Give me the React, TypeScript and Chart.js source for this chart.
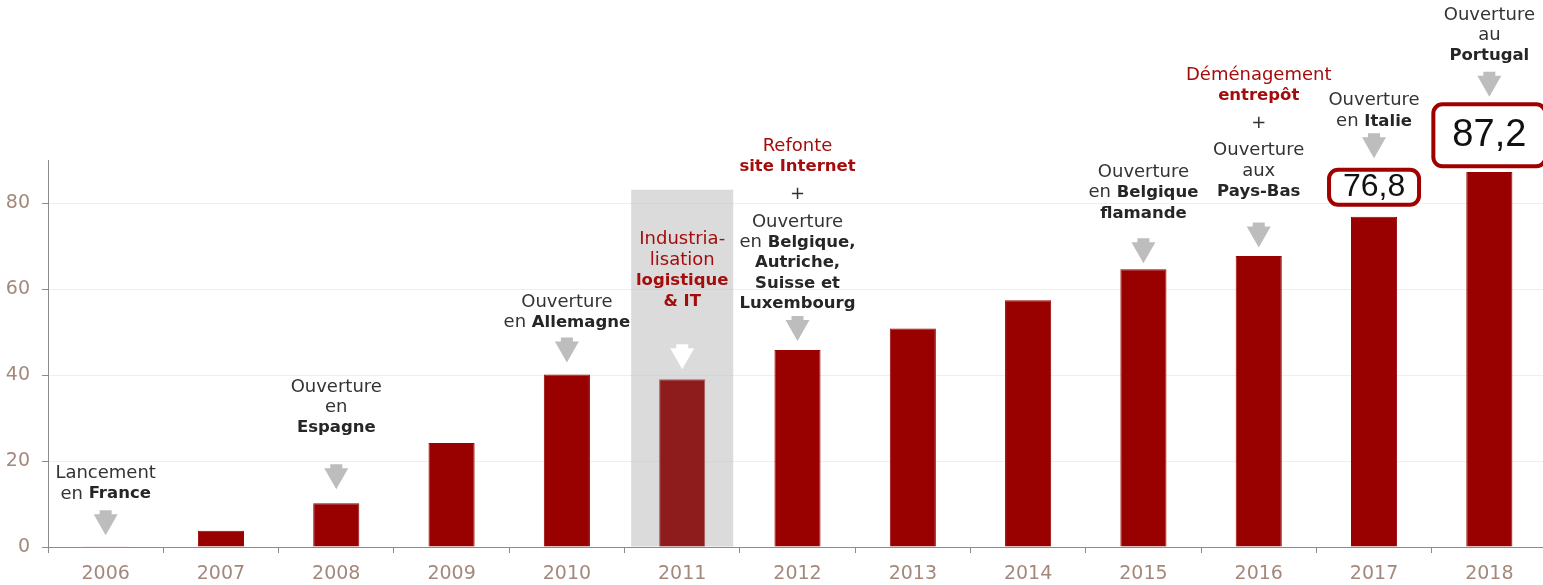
import React, { useEffect, useRef } from 'react';
import { Chart, registerables } from 'chart.js';

Chart.register(...registerables);

// ---------- data ----------
const years = ['2006', '2007', '2008', '2009', '2010', '2011', '2012', '2013', '2014', '2015', '2016', '2017', '2018'];
const revenue = [0.2, 3.8, 10.2, 24.2, 40.1, 39.0, 45.8, 50.8, 57.4, 64.6, 67.7, 76.8, 87.2];
const highlightBox = [null, null, null, null, null, 83.1, null, null, null, null, null, null, null];
const highlightYear = '2011';
const calloutValues = [null, null, null, null, null, null, null, null, null, null, null, '76,8', '87,2'];
const yMax = 90;
const yStep = 20;

// milestone texts ("!" = red line, **x** = bold)
const milestones: (string[] | null)[] = [
  ['Lancement', 'en **France**'],
  null,
  ['Ouverture', 'en', '**Espagne**'],
  null,
  ['Ouverture', 'en **Allemagne**'],
  ['!Industria-', '!lisation', '!**logistique**', '!**& IT**'],
  ['!Refonte', '!**site Internet**', '+', 'Ouverture', 'en **Belgique,**', '**Autriche,**', '**Suisse et**', '**Luxembourg**'],
  null,
  null,
  ['Ouverture', 'en **Belgique**', '**flamande**'],
  ['!Déménagement', '!**entrepôt**', '+', 'Ouverture', 'aux', '**Pays-Bas**'],
  ['Ouverture', 'en **Italie**'],
  ['Ouverture', 'au', '**Portugal**'],
];

// ---------- layout / style ----------
const BAR = '#990000';
const BAR_HL = '#8e1c1c';
const TICK_COLOR = '#a3897b';
const AXIS = '#8c8c8c';
const RED_TEXT = '#a50d0d';
const GRAY_TEXT = '#333333';
const FONT = '"DejaVu Sans"';

// per-bar annotation offsets in px: [gap bar/box top -> arrow tip, gap arrow top -> last text line centre]
const annotationOffsets: Record<number, [number, number]> = {
  0: [11, 16],
  2: [14, 36],
  4: [12, 15],
  5: [10, 43],
  6: [9, 12],
  9: [6, 25],
  10: [8.5, 31],
  11: [9.5, 12],
  12: [5.5, 16],
};
// callout boxes: outer width, outer height, gap above bar, font size
const calloutStyle: Record<number, { w: number; h: number; gap: number; size: number }> = {
  11: { w: 94, h: 39, gap: 10, size: 32 },
  12: { w: 116, h: 66, gap: 3.7, size: 38 },
};

function drawArrow(ctx: CanvasRenderingContext2D, cx: number, top: number, color: string) {
  const shaftW = 12, shaftH = 4, headW = 24, headH = 21;
  ctx.save();
  ctx.fillStyle = color;
  ctx.beginPath();
  ctx.moveTo(cx - shaftW / 2, top);
  ctx.lineTo(cx + shaftW / 2, top);
  ctx.lineTo(cx + shaftW / 2, top + shaftH);
  ctx.lineTo(cx + headW / 2, top + shaftH);
  ctx.lineTo(cx, top + shaftH + headH);
  ctx.lineTo(cx - headW / 2, top + shaftH);
  ctx.lineTo(cx - shaftW / 2, top + shaftH);
  ctx.closePath();
  ctx.fill();
  ctx.restore();
}

function drawRichLine(ctx: CanvasRenderingContext2D, raw: string, cx: number, y: number) {
  let line = raw;
  let red = false;
  if (line.startsWith('!')) {
    red = true;
    line = line.slice(1);
  }
  const parts = line.split('**');
  const runs = parts
    .map((t, i) => ({ t, bold: i % 2 === 1 }))
    .filter((r) => r.t.length > 0);
  const fontOf = (b: boolean) => (b ? `bold 16.5px ${FONT}` : `18px ${FONT}`);
  let total = 0;
  const widths = runs.map((r) => {
    ctx.font = fontOf(r.bold);
    const w = ctx.measureText(r.t).width;
    total += w;
    return w;
  });
  let x = cx - total / 2;
  ctx.textBaseline = 'middle';
  ctx.textAlign = 'left';
  runs.forEach((r, i) => {
    ctx.font = fontOf(r.bold);
    ctx.fillStyle = red ? RED_TEXT : r.bold ? '#262626' : GRAY_TEXT;
    ctx.fillText(r.t, x, y);
    x += widths[i];
  });
}

const milestonePlugin = {
  id: 'milestones',
  afterDatasetsDraw(chart: any) {
    const ctx: CanvasRenderingContext2D = chart.ctx;
    const meta = chart.getDatasetMeta(0);
    meta.data.forEach((bar: any, i: number) => {
      const cx = bar.x;
      let top = bar.y;
      const value = calloutValues[i];
      if (value) {
        const s = calloutStyle[i];
        const bottom = top - s.gap;
        const boxTop = bottom - s.h;
        const lw = 4;
        ctx.save();
        ctx.beginPath();
        (ctx as any).roundRect(cx - s.w / 2 + lw / 2, boxTop + lw / 2, s.w - lw, s.h - lw, 9);
        ctx.fillStyle = '#ffffff';
        ctx.fill();
        ctx.lineWidth = lw;
        ctx.strokeStyle = '#a00000';
        ctx.stroke();
        ctx.font = `${s.size}px "Liberation Sans"`;
        ctx.fillStyle = '#111111';
        ctx.textAlign = 'center';
        ctx.textBaseline = 'alphabetic';
        const m = ctx.measureText(value);
        const asc = m.actualBoundingBoxAscent;
        const desc = m.actualBoundingBoxDescent;
        const midY = boxTop + s.h / 2;
        ctx.fillText(value, cx, midY + (asc - desc) / 2);
        ctx.restore();
        top = boxTop;
      }
      const lines = milestones[i];
      if (!lines) return;
      const [arrowGap, textGap] = annotationOffsets[i];
      const tip = top - arrowGap;
      const aTop = tip - 25;
      drawArrow(ctx, cx, aTop, years[i] === highlightYear ? '#ffffff' : '#bdbdbd');
      ctx.save();
      let y = aTop - textGap;
      for (let k = lines.length - 1; k >= 0; k--) {
        drawRichLine(ctx, lines[k], cx, y);
        if (k > 0) {
          const extra = lines[k] === '+' || lines[k - 1] === '+' ? 7 : 0;
          y -= 20.5 + extra;
        }
      }
      ctx.restore();
    });
  },
};

export default function App() {
  const canvasRef = useRef<HTMLCanvasElement | null>(null);

  useEffect(() => {
    document.documentElement.style.overflow = 'hidden';
    document.body.style.margin = '0';
    document.body.style.overflow = 'hidden';
    const canvas = canvasRef.current;
    if (!canvas) return;
    Chart.defaults.font.family = FONT;
    const chart = new Chart(canvas, {
      type: 'bar',
      data: {
        labels: years,
        datasets: [
          {
            data: revenue,
            backgroundColor: years.map((y) => (y === highlightYear ? BAR_HL : BAR)),
            borderColor: years.map((y) => (y === highlightYear ? '#b05858' : BAR)),
            borderWidth: 1,
            barPercentage: 0.4,
            categoryPercentage: 1,
            grouped: false,
            order: 1,
          },
          {
            data: highlightBox,
            backgroundColor: 'rgba(190,190,190,0.55)',
            borderWidth: 0,
            barPercentage: 0.885,
            categoryPercentage: 1,
            grouped: false,
            order: 2,
          },
        ],
      },
      options: {
        responsive: false,
        animation: false,
        layout: { padding: { top: 160, right: 8, left: 0, bottom: 0 } },
        plugins: {
          legend: { display: false },
          tooltip: { enabled: false },
        },
        scales: {
          x: {
            grid: {
              drawOnChartArea: false,
              drawTicks: true,
              tickLength: 6,
              tickColor: AXIS,
              offset: true,
            },
            border: { color: AXIS, width: 1 },
            ticks: {
              color: TICK_COLOR,
              font: { family: FONT, size: 19 },
              padding: 10,
              maxRotation: 0,
              autoSkip: false,
            },
            afterFit: (s: any) => {
              s.height = 38;
            },
          },
          y: {
            min: 0,
            max: yMax,
            ticks: {
              stepSize: yStep,
              includeBounds: false,
              color: TICK_COLOR,
              font: { family: FONT, size: 19 },
              padding: 12,
            },
            grid: {
              color: '#efefef',
              tickColor: AXIS,
              tickLength: 6,
            },
            border: { color: AXIS, width: 1 },
            afterFit: (s: any) => {
              s.width = 48;
            },
          },
        },
      } as any,
      plugins: [milestonePlugin],
    });
    return () => chart.destroy();
  }, []);

  return (
    <div style={{ width: 1555, height: 585, overflow: 'hidden' }}>
      <canvas ref={canvasRef} width={1555} height={585} style={{ display: 'block' }} />
    </div>
  );
}
